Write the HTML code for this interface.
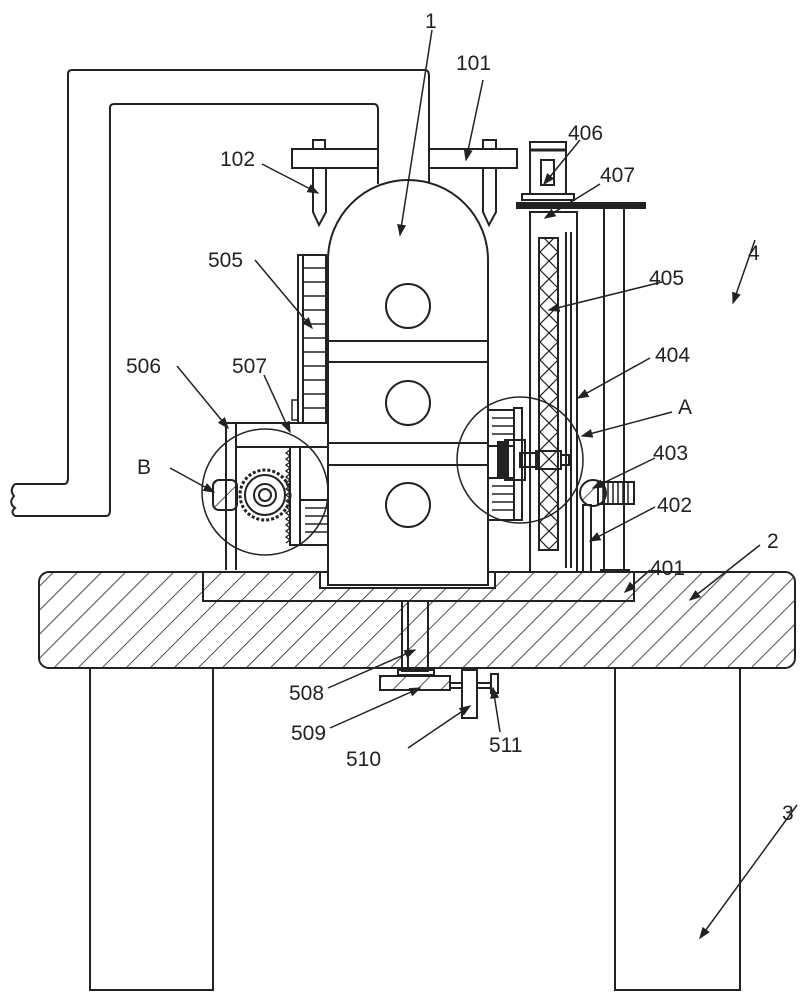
<!DOCTYPE html>
<html><head><meta charset="utf-8"><style>
html,body{margin:0;padding:0;background:#fff}
svg{display:block}
text{font-family:"Liberation Sans",sans-serif;font-size:21px;fill:#222}
</style></head><body>
<svg width="805" height="1000" viewBox="0 0 805 1000" xmlns="http://www.w3.org/2000/svg">
<defs>
<pattern id="h" patternUnits="userSpaceOnUse" width="17" height="17" patternTransform="rotate(45)">
<line x1="0" y1="0" x2="0" y2="17" stroke="#222" stroke-width="1.6"/>
</pattern>
<pattern id="x" patternUnits="userSpaceOnUse" width="18" height="18">
<path d="M0 0L18 18M18 0L0 18" stroke="#222" stroke-width="1.2"/>
</pattern>
<marker id="a" markerWidth="8" markerHeight="8" refX="7" refY="4" orient="auto"><path d="M0 1L8 4L0 7z" fill="#222"/></marker>
</defs>
<g fill="none" stroke="#222" stroke-width="2">
<!-- pipe -->
<path d="M15 484 L64 484 Q68 484 68 478 L68 74 Q68 70 72 70 L425 70 Q429 70 429 76 L429 183"/>
<path d="M15 516 L106 516 Q110 516 110 510 L110 108 Q110 104 114 104 L374 104 Q378 104 378 110 L378 184"/>
<path d="M15 484 Q9 490 14 496 Q8 503 15 508 Q10 512 15 516"/>
<!-- bar 101 -->
<rect x="292" y="149" width="86" height="19" fill="#fff"/>
<rect x="429" y="149" width="88" height="19" fill="#fff"/>
<path d="M313 149V140H325V149M313 168V212L319 225L326 212V168"/>
<path d="M483 149V140H496V149M483 168V212L489 225L496 212V168"/>
<!-- legs -->
<rect x="90" y="668" width="123" height="322"/>
<rect x="615" y="668" width="125" height="322"/>
<!-- table -->
<rect x="39" y="572" width="756" height="96" rx="10" fill="url(#h)"/>
<rect x="203" y="572" width="431" height="29" fill="#fff"/>
<rect x="203" y="572" width="431" height="29" fill="url(#h)"/>
<rect x="320" y="572" width="175" height="16" fill="#fff"/>
<!-- vessel -->
<path d="M328 585V260A80 80 0 0 1 488 260V585Z" fill="#fff"/>
<path d="M328 341H488M328 362H488M328 443H488M328 465H488"/>
<circle cx="408" cy="306" r="22"/><circle cx="408" cy="403" r="22"/><circle cx="408" cy="505" r="22"/>
<!-- rack 505 -->
<rect x="298" y="255" width="28" height="168"/>
<path d="M303 255V423"/>
<path d="M303 268H326M303 282H326M303 296H326M303 310H326M303 324H326M303 338H326M303 352H326M303 366H326M303 380H326M303 394H326M303 408H326" stroke-width="1.5"/>
<path d="M298 400h-6v20h6" stroke-width="1.5"/>
<!-- box 506/507 -->
<path d="M226 570V423H328M236 423V570M236 447H328"/>
<rect x="290" y="447" width="10" height="98"/>
<path d="M290 450l-4 3l4 3l-4 3l4 3l-4 3l4 3l-4 3l4 3l-4 3l4 3l-4 3l4 3l-4 3l4 3l-4 3l4 3l-4 3l4 3l-4 3l4 3l-4 3l4 3l-4 3l4 3l-4 3l4 3l-4 3l4 3l-4 3l4 3l-4 3" stroke-width="1.3"/>
<rect x="300" y="500" width="28" height="45"/>
<path d="M305 508H328M305 516H328M305 524H328M305 532H328" stroke-width="1.5"/>
<rect x="213" y="480" width="24" height="30" rx="6" fill="url(#h)"/>
<circle cx="265" cy="495" r="25" stroke-dasharray="3 2" stroke-width="3"/>
<circle cx="265" cy="495" r="20"/>
<circle cx="265" cy="495" r="11"/><circle cx="265" cy="495" r="6"/>
<circle cx="265" cy="492" r="63" stroke-width="1.5"/>
<!-- column 4 -->
<rect x="517" y="203" width="128" height="5" fill="#222"/>
<rect x="522" y="194" width="52" height="6"/>
<rect x="530" y="142" width="36" height="52"/>
<path d="M530 150H566" stroke-width="3"/>
<rect x="541" y="160" width="13" height="25"/>
<rect x="530" y="212" width="47" height="360" fill="#fff"/>
<rect x="539" y="238" width="19" height="312" fill="url(#x)"/>
<rect x="539" y="238" width="19" height="312"/>
<path d="M566 232V568M571 232V568"/>
<path d="M604 208V570M624 208V570M600 570H630"/>
<rect x="583" y="505" width="8" height="67"/>
<circle cx="593" cy="493" r="13" fill="url(#h)"/>
<rect x="598" y="482" width="36" height="22"/>
<path d="M603 482V504M608 482V504M613 482V504M618 482V504M623 482V504M628 482V504" stroke-width="1.5"/>
<!-- detail A -->
<rect x="488" y="410" width="26" height="36"/><rect x="488" y="478" width="26" height="42"/>
<path d="M492 418H514M492 426H514M492 434H514M492 486H514M492 494H514M492 502H514M492 510H514" stroke-width="1.5"/>
<rect x="514" y="408" width="8" height="112"/>
<rect x="505" y="440" width="20" height="40"/>
<rect x="498" y="442" width="10" height="36" fill="#222"/>
<rect x="520" y="453" width="18" height="14"/>
<rect x="536" y="451" width="25" height="18"/>
<rect x="561" y="455" width="8" height="10"/>
<circle cx="520" cy="460" r="63" stroke-width="1.5"/>
<rect x="402" y="601" width="26" height="70"/><path d="M408 601V671"/>
<rect x="398" y="670" width="36" height="5"/>
<rect x="380" y="676" width="70" height="14" fill="url(#h)"/>
<rect x="462" y="670" width="15" height="48"/>
<path d="M450 683H462M450 688H462M477 683H491M477 688H491"/>
<rect x="491" y="674" width="7" height="19"/>
</g>
<!-- leaders -->
<g stroke="#222" stroke-width="1.5" fill="none" marker-end="url(#a)">
<path d="M432 30L400 235"/>
<path d="M483 80L466 160"/>
<path d="M262 164L318 193"/>
<path d="M255 260L312 328"/>
<path d="M177 366L228 428"/>
<path d="M264 375L290 432"/>
<path d="M170 468L214 492"/>
<path d="M580 140L544 184"/>
<path d="M600 184L545 218"/>
<path d="M662 282L549 310"/>
<path d="M650 358L578 398"/>
<path d="M672 412L582 436"/>
<path d="M655 458L593 488"/>
<path d="M655 507L590 541"/>
<path d="M650 570L625 592"/>
<path d="M755 240L733 303"/>
<path d="M760 545L690 600"/>
<path d="M328 688L415 650"/>
<path d="M330 728L420 688"/>
<path d="M408 748L470 706"/>
<path d="M500 732L493 688"/>
<path d="M797 805L700 938"/>
</g>
<g>
<text x="425" y="28">1</text>
<text x="456" y="70">101</text>
<text x="220" y="166">102</text>
<text x="568" y="140">406</text>
<text x="600" y="182">407</text>
<text x="748" y="260">4</text>
<text x="208" y="267">505</text>
<text x="649" y="285">405</text>
<text x="126" y="373">506</text>
<text x="232" y="373">507</text>
<text x="655" y="362">404</text>
<text x="678" y="414">A</text>
<text x="137" y="474">B</text>
<text x="653" y="460">403</text>
<text x="657" y="512">402</text>
<text x="767" y="548">2</text>
<text x="650" y="575">401</text>
<text x="289" y="700">508</text>
<text x="291" y="740">509</text>
<text x="346" y="766">510</text>
<text x="489" y="752">511</text>
<text x="782" y="820">3</text>
</g>
</svg>
</body></html>
